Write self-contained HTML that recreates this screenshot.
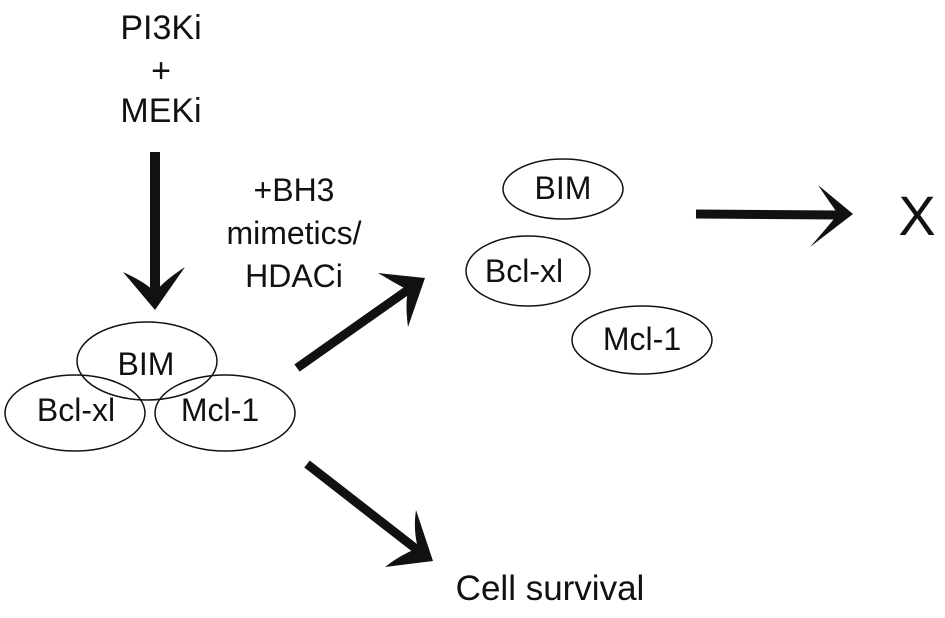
<!DOCTYPE html>
<html><head><style>html,body{margin:0;padding:0;background:#fff}</style></head>
<body>
<svg width="945" height="613" viewBox="0 0 945 613" xmlns="http://www.w3.org/2000/svg" font-family="Liberation Sans, sans-serif" fill="#111">
<g font-size="34" text-anchor="middle">
<text x="161" y="39">PI3Ki</text>
<text x="161" y="82">+</text>
<text x="161" y="122">MEKi</text>
</g>
<g font-size="32" text-anchor="middle">
<text x="294" y="201">+BH3</text>
<text x="294" y="244">mimetics/</text>
<text x="294" y="287">HDACi</text>
</g>
<g fill="none" stroke="#111" stroke-width="1.5">
<ellipse cx="147" cy="361" rx="70" ry="39"/>
<ellipse cx="75" cy="413" rx="70" ry="38"/>
<ellipse cx="225" cy="413" rx="70" ry="38"/>
<ellipse cx="563" cy="189" rx="60" ry="30"/>
<ellipse cx="528" cy="271" rx="62" ry="35"/>
<ellipse cx="642" cy="340" rx="70" ry="34"/>
</g>
<g font-size="32" text-anchor="middle">
<text x="146" y="375">BIM</text>
<text x="76" y="421">Bcl-xl</text>
<text x="220" y="421">Mcl-1</text>
<text x="563" y="199">BIM</text>
<text x="524" y="282">Bcl-xl</text>
<text x="642" y="350">Mcl-1</text>
<text x="550" y="600" font-size="35">Cell survival</text>
<text x="917" y="235" font-size="56">X</text>
</g>
<g stroke="#111" stroke-width="10" fill="none">
<line x1="155" y1="152" x2="155" y2="292"/>
<line x1="297" y1="368" x2="412" y2="287" stroke-width="9"/>
<line x1="307" y1="464" x2="420" y2="552" stroke-width="9"/>
<line x1="696" y1="214" x2="840" y2="215" stroke-width="9"/>
</g>
<g fill="#111">
<path d="M155,310 L123,272 Q145,282 155,292 Q165,280 185,267 Z"/>
<path d="M425,278 L378,273 Q398,285 408,290 Q405,305 408,327 Z"/>
<path d="M433,561 L416,510 Q413,530 418,548 Q400,555 385,567 Z"/>
<path d="M853,214 L818,185 Q828,200 838,214 Q825,230 810,247 Z"/>
</g>
</svg>
</body></html>
